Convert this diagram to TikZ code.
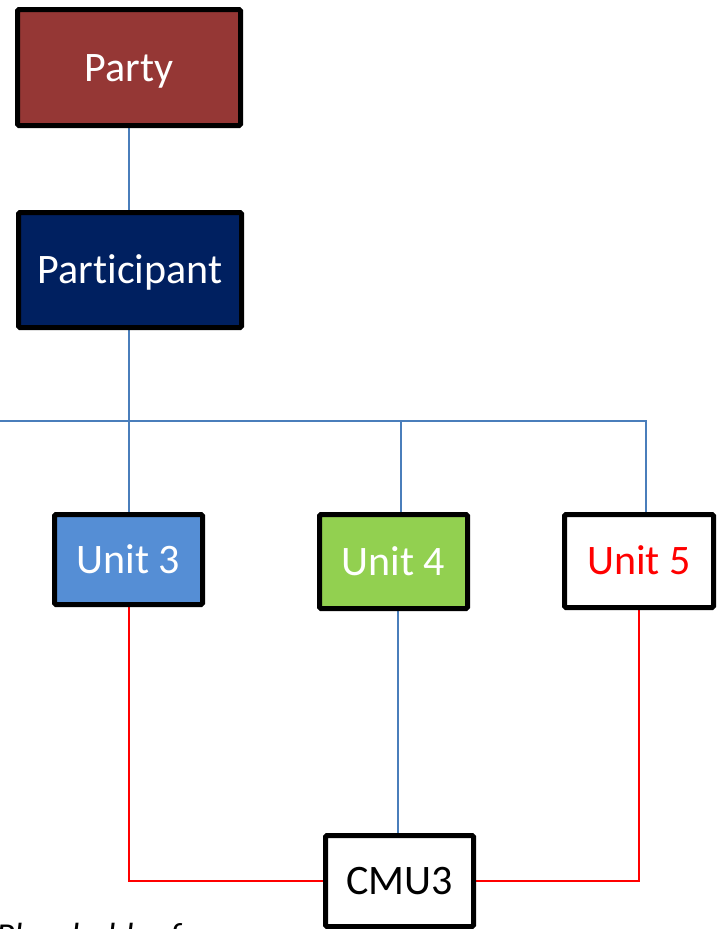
\documentclass[tikz,border=0pt]{standalone}
\usepackage{fontspec}
\setmainfont{Carlito}[Ligatures=CommonOff]
\usetikzlibrary{backgrounds}
\definecolor{partyred}{HTML}{953735}
\definecolor{navy}{HTML}{002060}
\definecolor{unitblue}{HTML}{558ED5}
\definecolor{unitgreen}{HTML}{92D050}
\definecolor{linkblue}{HTML}{4A7EBB}
\definecolor{linkred}{HTML}{FF0000}
\tikzset{
  box/.style={draw=black, line width=5pt, rounded corners=1.5pt,
    inner sep=0pt, font=\fontsize{42}{50}\selectfont,
    text height=27pt, text depth=0pt},
  bluelink/.style={draw=linkblue, line width=2pt},
  redlink/.style={draw=linkred, line width=2pt},
}
\begin{document}
\begin{tikzpicture}[x=1pt, y=-1pt]
  \useasboundingbox (0,0) rectangle (718,929);
  \clip (0,0) rectangle (718,929);

  % boxes
  \node[box, fill=partyred, text=white, minimum width=223pt, minimum height=116pt]
    (party) at (129,67.5) {Party};
  \node[box, fill=navy, text=white, minimum width=223pt, minimum height=115pt]
    (participant) at (130,270) {Participant};
  \node[box, fill=unitblue, text=white, minimum width=148pt, minimum height=90pt]
    (unit3) at (128.5,559.5) {Unit 3};
  \node[box, fill=unitgreen, text=white, minimum width=148pt, minimum height=94pt]
    (unit4) at (393.5,561.5) {Unit 4};
  \node[box, fill=white, text=linkred, minimum width=149pt, minimum height=93pt]
    (unit5) at (639,561) {Unit 5};
  \node[box, fill=white, text=black, minimum width=148pt, minimum height=91pt]
    (cmu) at (399.5,881) {CMU3};

  % bus coordinates
  \coordinate (busL) at (0,421);
  \coordinate (busA) at (129,421);
  \coordinate (busB) at (401,421);
  \coordinate (busR) at (646,421);
  \coordinate (dropB) at (398,600);

  \begin{pgfonlayer}{background}
    \draw[bluelink] (party.south) -- (party.south |- participant.north);
    \draw[bluelink] (participant.south -| busA) -- (busA);
    \draw[bluelink] (busL) -- (busR) -- (busR |- unit5.north);
    \draw[bluelink] (busA) -- (busA |- unit3.north);
    \draw[bluelink] (busB) -- (busB |- unit4.north);
    \draw[bluelink] (dropB |- unit4.south) -- (dropB |- cmu.north);
    \draw[redlink] (unit3.south) |- (cmu.west);
    \draw[redlink] (unit5.south) |- (cmu.east);
  \end{pgfonlayer}

  % caption running off the lower edge
  \node[anchor=base west, inner sep=0pt, font=\itshape\fontsize{35}{42}\selectfont]
    (caption) at (-4,947) {Placeholder for};
\end{tikzpicture}
\end{document}
